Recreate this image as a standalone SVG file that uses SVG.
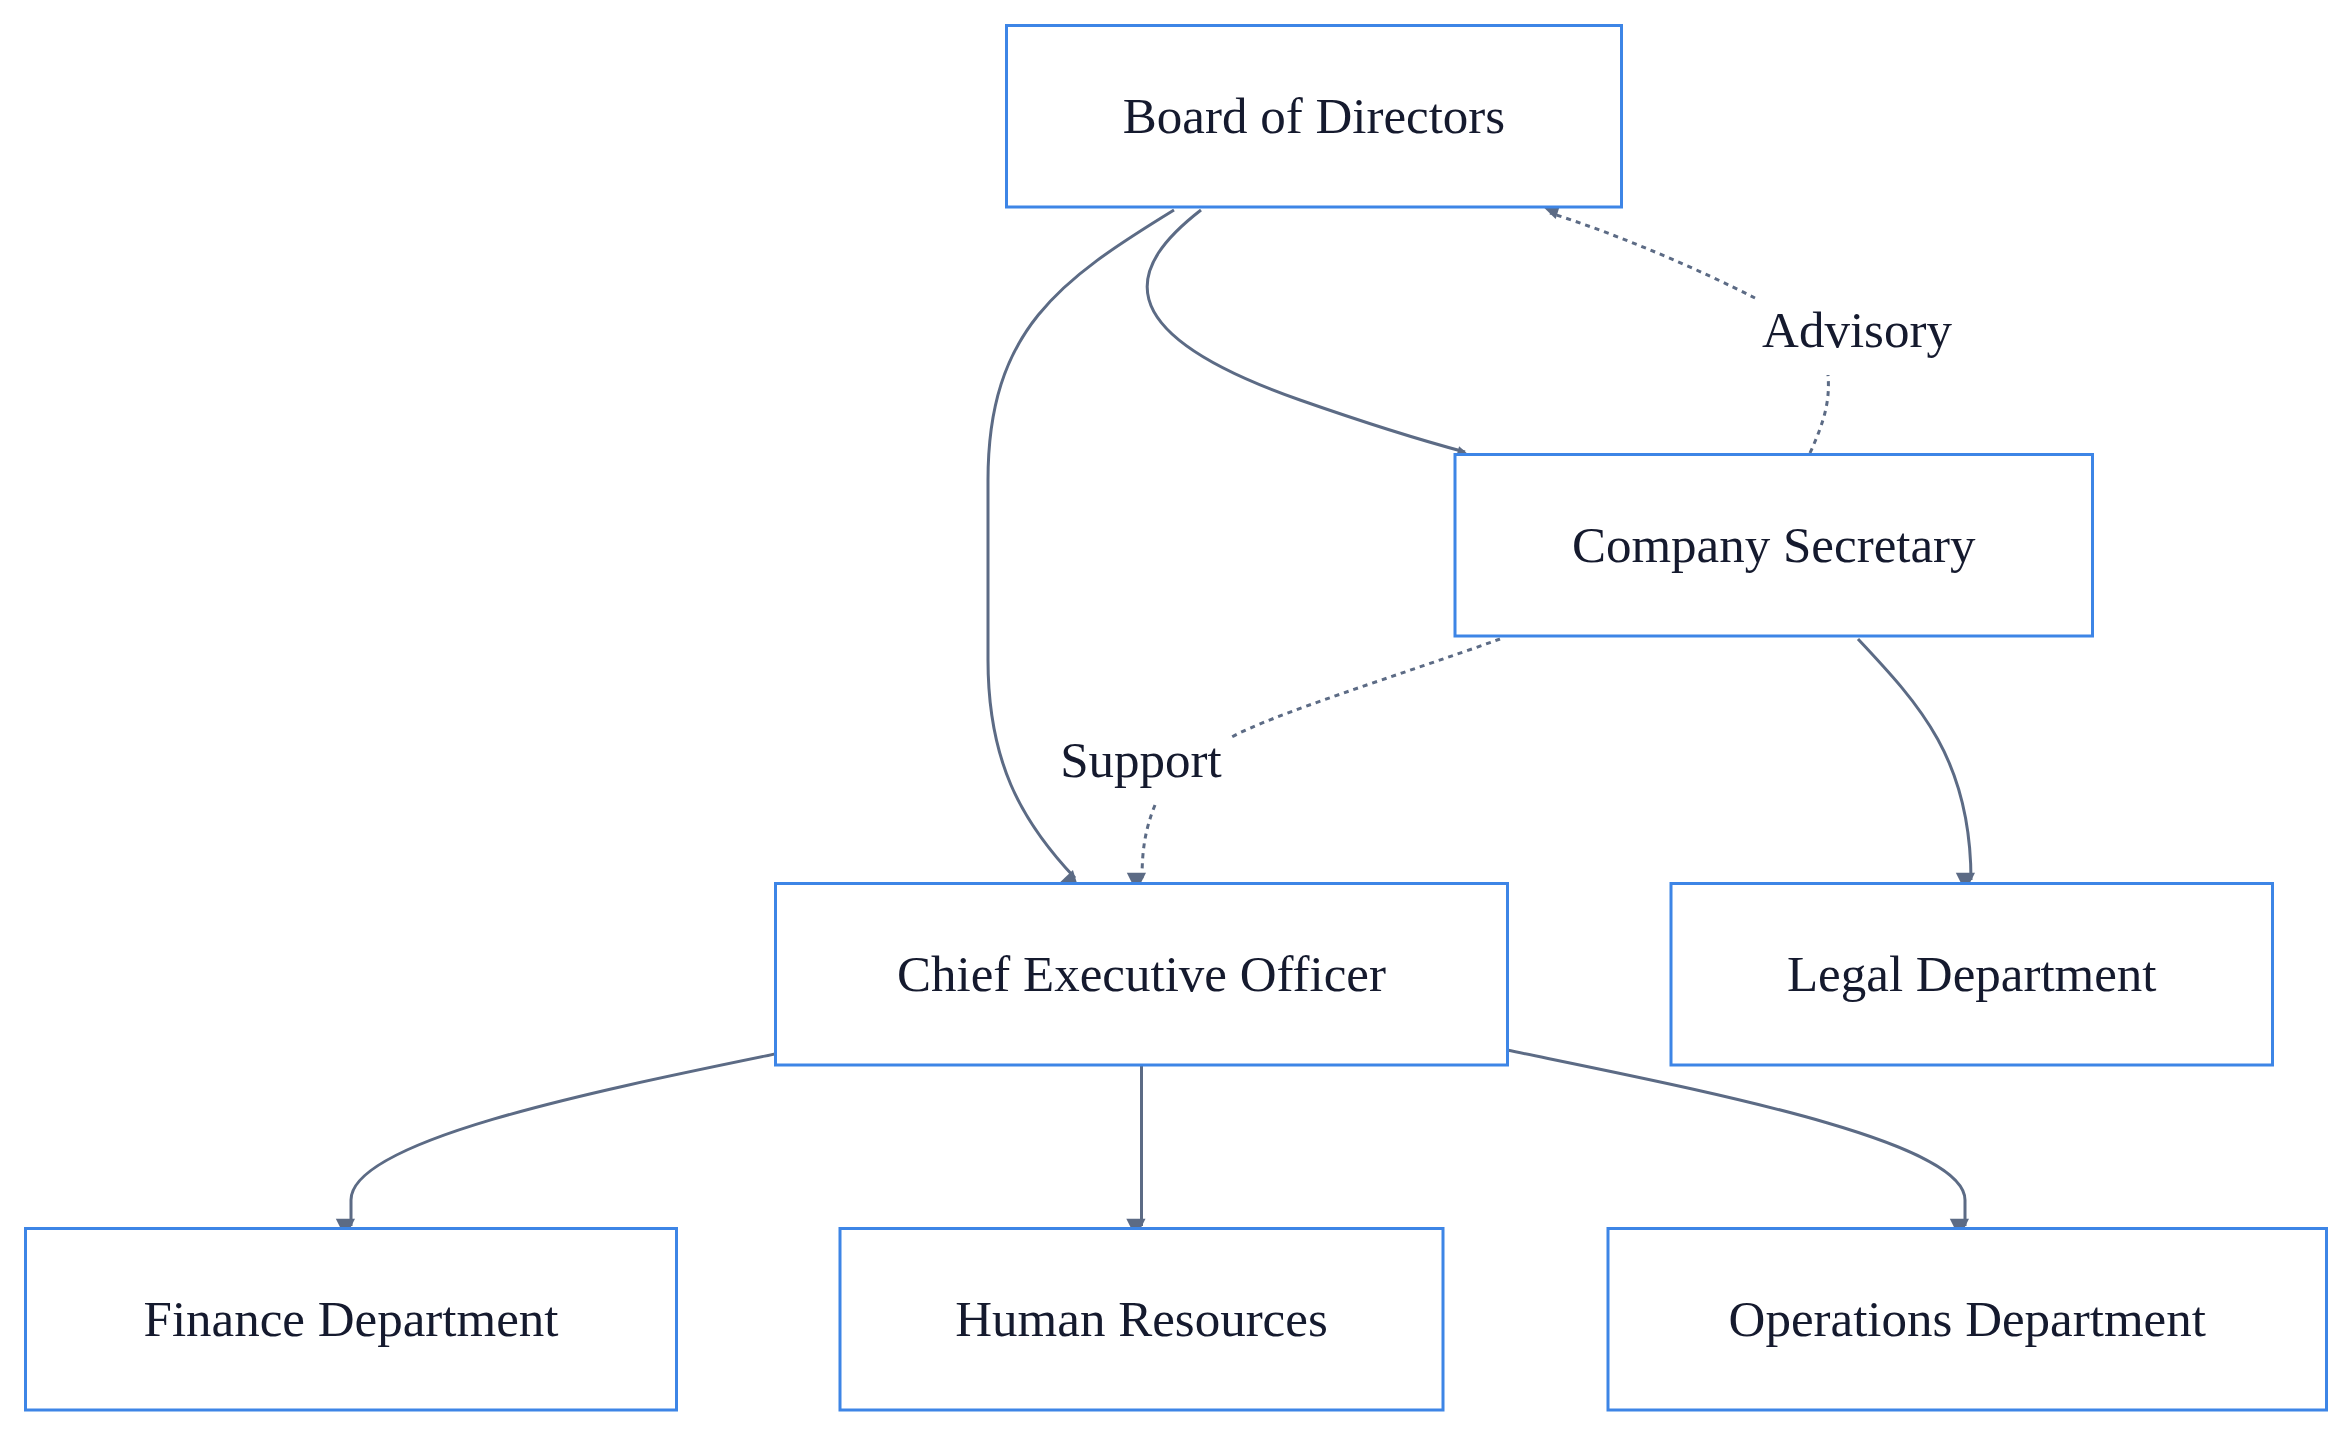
<svg xmlns="http://www.w3.org/2000/svg" width="2352" height="1437" viewBox="0 0 2352 1437">
<style>
.n rect{fill:#fff;stroke:#3d85e6;stroke-width:3}
.n text,.lbl{font-family:"Liberation Serif",serif;font-size:51px;fill:#151a2e;text-anchor:middle;dominant-baseline:central}
.e{fill:none;stroke:#5c6b85;stroke-width:3}
.d{stroke-dasharray:5 5}
</style>
<defs><marker id="a" viewBox="0 0 10 10" refX="9" refY="5" markerWidth="8" markerHeight="8" markerUnits="userSpaceOnUse" orient="auto" style="overflow:visible"><path d="M0,0L10,5L0,10z" fill="#5c6b85" transform="scale(2.4) translate(-5,-5) translate(5,5)"/></marker></defs>
<rect width="2352" height="1437" fill="#fff"/>
<g id="connectors">
<path class="e" d="M1174,210 C1060,280 988,330 988,480 L988,660 C988,760 1020,820 1075,878" marker-end="url(#a)"/>
<path class="e" d="M1201,210 C1130,265 1100,330 1300,400 C1380,428 1420,440 1465,452" marker-end="url(#a)"/>
<path class="e d" d="M1810,453 C1825,420 1830,400 1828,375"/>
<path class="e d" d="M1755,298 C1700,270 1620,235 1550,213" marker-end="url(#a)"/>
<path class="e d" d="M1500,639 C1400,675 1270,715 1230,738"/>
<path class="e d" d="M1155,805 C1145,830 1142,850 1142,880" marker-end="url(#a)"/>
<path class="e" d="M1858,639 C1920,705 1971,760 1971,880" marker-end="url(#a)"/>
<path class="e" d="M775,1054 C600,1090 351,1140 351,1200 L351,1226" marker-end="url(#a)"/>
<path class="e" d="M1141.5,1065 L1141.5,1226" marker-end="url(#a)"/>
<path class="e" d="M1507,1050 C1700,1090 1965,1140 1965,1200 L1965,1226" marker-end="url(#a)"/>
<text class="lbl" x="1857" y="330">Advisory</text>
<text class="lbl" x="1141" y="760">Support</text>
</g>
<g id="board" class="n"><rect x="1006.5" y="25.5" width="615" height="181.5"/><text x="1314" y="116">Board of Directors</text></g>
<g id="secretary" class="n"><rect x="1455" y="454.5" width="637.5" height="181.5"/><text x="1773.75" y="545">Company Secretary</text></g>
<g id="ceo" class="n"><rect x="775.5" y="883.5" width="732" height="181.5"/><text x="1141.5" y="974">Chief Executive Officer</text></g>
<g id="legal" class="n"><rect x="1671" y="883.5" width="601.5" height="181.5"/><text x="1971.75" y="974">Legal Department</text></g>
<g id="finance" class="n"><rect x="25.5" y="1228.5" width="651" height="181.5"/><text x="351" y="1319">Finance Department</text></g>
<g id="hr" class="n"><rect x="840" y="1228.5" width="603" height="181.5"/><text x="1141.5" y="1319">Human Resources</text></g>
<g id="ops" class="n"><rect x="1608" y="1228.5" width="718.5" height="181.5"/><text x="1967.25" y="1319">Operations Department</text></g>
</svg>
